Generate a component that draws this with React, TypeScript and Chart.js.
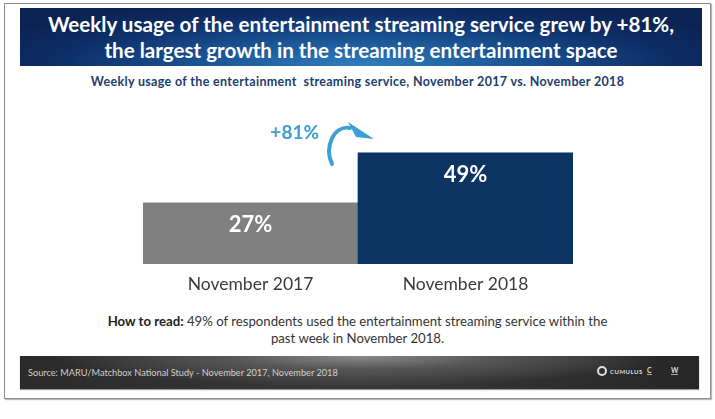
import React, { useEffect, useRef } from "react";
import { Chart, registerables } from "chart.js";

Chart.register(...registerables);

const categories = ["November 2017", "November 2018"];
const values = [27, 49];
const valueLabels = ["27%", "49%"];
const growthLabel = "+81%";
const barColors = ["#808080", "#0b3462"];

const titleLines = [
  "Weekly usage of the entertainment streaming service grew by +81%,",
  "the largest growth in the streaming entertainment space",
];
const subtitle = "Weekly usage of the entertainment  streaming service, November 2017 vs. November 2018";
const howToReadBold = "How to read:";
const howToReadText = " 49% of respondents used the entertainment streaming service within the";
const howToReadText2 = "past week in November 2018.";
const sourceText = "Source: MARU/Matchbox National Study - November 2017, November 2018";

const FONT = "Lato, 'Open Sans', sans-serif";

const valueLabelPlugin = {
  id: "valueLabels",
  afterDatasetsDraw(chart: any) {
    const ctx = chart.ctx;
    const meta = chart.getDatasetMeta(0);
    ctx.save();
    ctx.fillStyle = "#ffffff";
    ctx.font = `bold 22px ${FONT}`;
    ctx.textAlign = "center";
    ctx.textBaseline = "middle";
    meta.data.forEach((bar: any, i: number) => {
      ctx.fillText(valueLabels[i], bar.x, bar.y + 22);
    });
    // growth arrow
    const b0 = meta.data[0];
    const b1 = meta.data[1];
    const bx = b0.x + b0.width / 2;
    const ty = b1.y;
    ctx.fillStyle = "#3d9fd3";
    ctx.strokeStyle = "#3d9fd3";
    ctx.font = `bold 19px ${FONT}`;
    ctx.textAlign = "right";
    ctx.fillText(growthLabel, bx - 39, ty - 20);
    // curved arrow
    ctx.lineCap = "round";
    ctx.lineWidth = 4;
    ctx.beginPath();
    ctx.moveTo(bx - 26, ty + 11);
    ctx.bezierCurveTo(bx - 34, ty - 6, bx - 24, ty - 28, bx - 8, ty - 25);
    ctx.stroke();
    // arrow head
    ctx.beginPath();
    ctx.moveTo(bx - 10, ty - 31);
    ctx.lineTo(bx + 16, ty - 14);
    ctx.lineTo(bx - 2, ty - 16);
    ctx.closePath();
    ctx.fill();
    ctx.restore();
  },
};

function BarChart() {
  const ref = useRef<HTMLCanvasElement>(null);
  useEffect(() => {
    if (!ref.current) return;
    const chart = new Chart(ref.current, {
      type: "bar",
      data: {
        labels: categories,
        datasets: [
          {
            data: values,
            backgroundColor: barColors,
            borderWidth: 0,
            barPercentage: 1,
            categoryPercentage: 1,
          },
        ],
      },
      options: {
        animation: false,
        responsive: false,
        maintainAspectRatio: false,
        layout: { padding: { top: 28, left: 0, right: 0, bottom: 0 } },
        plugins: { legend: { display: false }, tooltip: { enabled: false } },
        scales: {
          x: {
            grid: { display: false, drawTicks: false },
            border: { display: false },
            ticks: {
              color: "#3a3a3a",
              font: { family: FONT, size: 17.5 },
              padding: 10,
            },
            afterFit: (s: any) => {
              s.height = 36;
            },
          },
          y: {
            display: false,
            min: 0,
            max: 60,
          },
        },
      },
      plugins: [valueLabelPlugin],
    });
    return () => chart.destroy();
  }, []);
  return (
    <canvas
      ref={ref}
      width={430}
      height={200}
      style={{ position: "absolute", left: 143, top: 100, width: 430, height: 200 }}
    />
  );
}

export default function App() {
  return (
    <div
      style={{
        position: "absolute",
        left: 0,
        top: 0,
        width: 715,
        height: 419,
        background: "#ffffff",
        overflow: "hidden",
        fontFamily: FONT,
      }}
    >
      <div
        style={{
          position: "absolute",
          left: 4,
          top: 3,
          width: 705,
          height: 394,
          border: "1px solid #8c8c8c",
          boxShadow: "1px 1px 1px #bbb",
        }}
      />
      <div
        style={{
          position: "absolute",
          left: 20,
          top: 8,
          width: 682,
          height: 58,
          background:
            "radial-gradient(ellipse 60% 120% at 50% 100%, #2f7fc0 0%, #1a5394 40%, #0d2d66 75%, #0a2352 100%)",
          color: "#ffffff",
          textAlign: "center",
          fontWeight: "bold",
          fontSize: 20.6,
          lineHeight: "26px",
          paddingTop: 3,
          boxSizing: "border-box",
          whiteSpace: "nowrap",
        }}
      >
        <div>{titleLines[0]}</div>
        <div>{titleLines[1]}</div>
      </div>
      <div
        style={{
          position: "absolute",
          left: 0,
          width: 715,
          top: 74,
          textAlign: "center",
          color: "#1c3d6e",
          fontWeight: "bold",
          fontSize: 12.5,
          letterSpacing: 0.33,
          lineHeight: "16px",
          whiteSpace: "pre",
        }}
      >
        {subtitle}
      </div>
      <BarChart />
      <div
        style={{
          position: "absolute",
          left: 0,
          width: 715,
          top: 313,
          textAlign: "center",
          color: "#333333",
          fontSize: 13.2,
          lineHeight: "17px",
          whiteSpace: "nowrap",
        }}
      >
        <div>
          <b style={{ color: "#222" }}>{howToReadBold}</b>
          {howToReadText}
        </div>
        <div>{howToReadText2}</div>
      </div>
      <div
        style={{
          position: "absolute",
          left: 20,
          top: 356,
          width: 679,
          height: 33,
          background:
            "radial-gradient(ellipse 45% 90% at 50% 0%, #8a8a8a 0%, #555 45%, rgba(40,40,40,0) 100%), linear-gradient(90deg, #2a2a2a 0%, #3a3a3a 50%, #262626 100%)",
          boxShadow: "0 1px 1px #999",
        }}
      >
        <div
          style={{
            position: "absolute",
            left: 8,
            top: 11,
            fontSize: 9.2,
            color: "#cfcfcf",
            whiteSpace: "nowrap",
          }}
        >
          {sourceText}
        </div>
        <div
          style={{
            position: "absolute",
            left: 577,
            top: 10,
            display: "flex",
            alignItems: "center",
            gap: 3,
            color: "#dddddd",
          }}
        >
          <div
            style={{
              width: 10,
              height: 10,
              borderRadius: "50%",
              border: "2px solid #e0e0e0",
              boxSizing: "border-box",
            }}
          />
          <span style={{ fontSize: 6, fontWeight: "bold", letterSpacing: 0.5 }}>CUMULUS</span>
        </div>
        <div
          style={{
            position: "absolute",
            left: 627,
            top: 10,
            fontSize: 7,
            fontWeight: "bold",
            color: "#dddddd",
            borderBottom: "1px solid #aaa",
            lineHeight: "8px",
          }}
        >
          C
        </div>
        <div
          style={{
            position: "absolute",
            left: 651,
            top: 10,
            fontSize: 7,
            fontWeight: "bold",
            color: "#dddddd",
            borderBottom: "1px solid #aaa",
            lineHeight: "8px",
          }}
        >
          W
        </div>
      </div>
    </div>
  );
}
